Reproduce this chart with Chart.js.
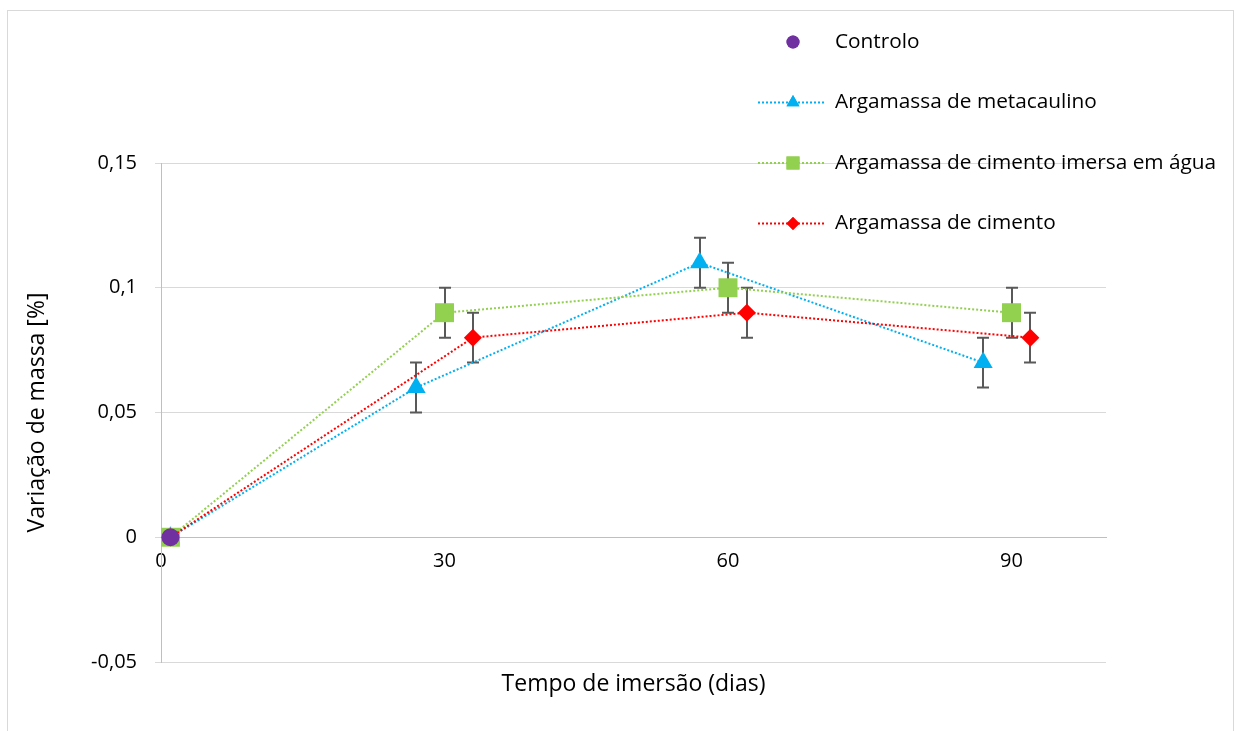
<!DOCTYPE html>
<html>
<head>
<meta charset="utf-8">
<script src="https://cdn.jsdelivr.net/npm/chart.js@4/dist/chart.umd.min.js"></script>
<style>
html,body{margin:0;padding:0;background:#fff;}
canvas{display:block;}
</style>
</head>
<body>
<canvas id="c" width="1235" height="731"></canvas>
<script>
// ---- data ----
const seriesNames = ['Controlo', 'Argamassa de metacaulino', 'Argamassa de cimento imersa em água', 'Argamassa de cimento'];
const controloX = [1];
const controloY = [0];
const metaX = [1, 27, 57, 87];
const metaY = [0, 0.06, 0.11, 0.07];
const metaErr = [null, 0.01, 0.01, 0.01];
const imersaX = [1, 30, 60, 90];
const imersaY = [0, 0.09, 0.10, 0.09];
const imersaErr = [null, 0.01, 0.01, 0.01];
const cimentoX = [1, 33, 62, 92];
const cimentoY = [0, 0.08, 0.09, 0.08];
const cimentoErr = [null, 0.01, 0.01, 0.01];
const xTickValues = [0, 30, 60, 90];
const xTickLabels = ['0', '30', '60', '90'];
const yTickValues = [-0.05, 0, 0.05, 0.1, 0.15];
const yTickLabels = ['-0,05', '0', '0,05', '0,1', '0,15'];
const xTitle = 'Tempo de imersão (dias)';
const yTitle = 'Variação de massa [%]';

const FONT = '"Open Sans"';
const TXT = '#000000';

function pts(xs, ys) { return xs.map((x, i) => ({x: x, y: ys[i]})); }

const datasets = [
  {label: seriesNames[0], data: pts(controloX, controloY), showLine: false, order: 0,
   pointStyle: 'circle', pointRadius: 9, backgroundColor: '#7030A0', borderColor: '#7030A0',
   legendRadius: 6.5},
  {label: seriesNames[1], data: pts(metaX, metaY), errors: metaErr, showLine: true, order: 3,
   pointStyle: 'triangle', pointRadius: 11, backgroundColor: '#00B0F0', borderColor: '#00B0F0',
   legendRadius: 7.5},
  {label: seriesNames[2], data: pts(imersaX, imersaY), errors: imersaErr, showLine: true, order: 2,
   pointStyle: 'rect', pointRadius: 13.4, backgroundColor: '#92D050', borderColor: '#92D050',
   legendRadius: 9.2},
  {label: seriesNames[3], data: pts(cimentoX, cimentoY), errors: cimentoErr, showLine: true, order: 1,
   pointStyle: 'rectRot', pointRadius: 9, backgroundColor: '#FF0000', borderColor: '#FF0000',
   legendRadius: 6.5}
];
datasets.forEach(d => {
  d.borderWidth = 2;
  d.borderDash = [2, 2];
  d.pointBorderWidth = 0;
  d.pointHoverRadius = d.pointRadius;
  d.tension = 0;
});

const frame = {
  id: 'frame',
  beforeDraw(chart) {
    const ctx = chart.ctx;
    ctx.save();
    ctx.fillStyle = '#fff';
    ctx.fillRect(0, 0, chart.width, chart.height);
    ctx.strokeStyle = '#d9d9d9';
    ctx.lineWidth = 1;
    ctx.strokeRect(7.5, 10.5, 1226, 800);
    ctx.restore();
  }
};

const errorBars = {
  id: 'errorBars',
  beforeDatasetsDraw(chart) {
    const ctx = chart.ctx, xs = chart.scales.x, ys = chart.scales.y;
    ctx.save();
    ctx.strokeStyle = '#595959';
    ctx.lineWidth = 2;
    chart.data.datasets.forEach(ds => {
      if (!ds.errors) return;
      ds.data.forEach((p, i) => {
        const e = ds.errors[i];
        if (e == null) return;
        const px = Math.round(xs.getPixelForValue(p.x));
        const yt = ys.getPixelForValue(p.y + e);
        const yb = ys.getPixelForValue(p.y - e);
        ctx.beginPath();
        ctx.moveTo(px, yt); ctx.lineTo(px, yb);
        ctx.moveTo(px - 6, yt); ctx.lineTo(px + 6, yt);
        ctx.moveTo(px - 6, yb); ctx.lineTo(px + 6, yb);
        ctx.stroke();
      });
    });
    ctx.restore();
  }
};

const legendBox = {
  id: 'legendBox',
  afterDraw(chart) {
    const ctx = chart.ctx;
    const x0 = 758, x1 = 826, mx = 793, tx = 835, y0 = 42, dy = 60.5;
    ctx.save();
    chart.data.datasets.forEach((ds, i) => {
      const y = y0 + i * dy;
      if (ds.showLine) {
        ctx.save();
        ctx.strokeStyle = ds.borderColor;
        ctx.lineWidth = 2;
        ctx.setLineDash([2, 2]);
        ctx.beginPath();
        ctx.moveTo(x0, y); ctx.lineTo(x1, y);
        ctx.stroke();
        ctx.restore();
      }
      ctx.fillStyle = ds.backgroundColor;
      Chart.helpers.drawPoint(ctx, {pointStyle: ds.pointStyle, radius: ds.legendRadius, borderWidth: 0, rotation: 0}, mx, y);
      ctx.fill();
      ctx.fillStyle = TXT;
      ctx.font = '20.8px ' + FONT;
      ctx.textBaseline = 'middle';
      ctx.textAlign = 'left';
      ctx.fillText(ds.label, tx, y);
    });
    ctx.restore();
  }
};

new Chart(document.getElementById('c'), {
  type: 'scatter',
  data: {datasets: datasets},
  options: {
    responsive: false,
    animation: false,
    devicePixelRatio: 1,
    layout: {padding: {left: 8, top: 163, right: 129, bottom: 33}},
    plugins: {legend: {display: false}, tooltip: {enabled: false}},
    scales: {
      x: {
        type: 'linear', min: 0, max: 100,
        position: {y: 0},
        afterFit(s) { s.height = 0; },
        afterBuildTicks(s) { s.ticks = xTickValues.map(v => ({value: v})); },
        ticks: {
          callback(v, i) { return xTickLabels[i]; },
          color: TXT, font: {family: FONT, size: 20}, padding: 6, maxRotation: 0
        },
        grid: {display: false, drawTicks: true, tickLength: 6},
        border: {display: true, color: '#bfbfbf', width: 1}
      },
      x2: {
        type: 'linear', min: 0, max: 100, position: 'bottom',
        afterFit(s) { s.height = 36; },
        ticks: {display: false},
        grid: {display: false, drawTicks: false},
        border: {display: false},
        title: {display: true, text: xTitle, color: TXT, font: {family: FONT, size: 23}, padding: 0}
      },
      y: {
        type: 'linear', min: -0.05, max: 0.15, position: 'left',
        afterFit(s) { s.width = 153; },
        afterBuildTicks(s) { s.ticks = yTickValues.map(v => ({value: v})); },
        ticks: {
          callback(v, i) { return yTickLabels[i]; },
          color: TXT, font: {family: FONT, size: 20}, padding: 18
        },
        grid: {color: '#d9d9d9', lineWidth: 1, drawTicks: true, tickLength: 6},
        border: {display: true, color: '#bfbfbf', width: 1},
        title: {display: true, text: yTitle, color: TXT, font: {family: FONT, size: 23}, padding: {top: 16, bottom: 0}}
      }
    }
  },
  plugins: [frame, errorBars, legendBox]
});
</script>
</body>
</html>
